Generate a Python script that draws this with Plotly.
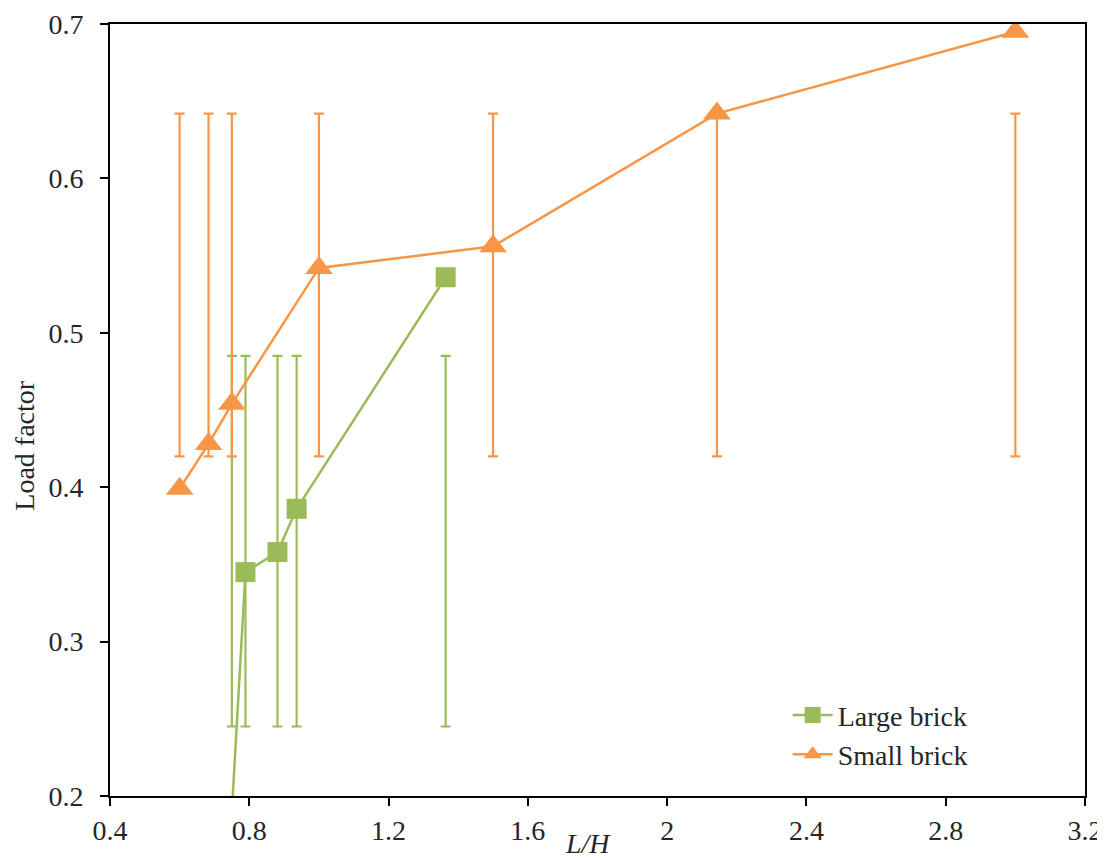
import plotly.graph_objects as go

# ---- data ----
large_x = [0.75, 0.789, 0.881, 0.936, 1.364]
large_y = [0.19, 0.345, 0.358, 0.386, 0.536]
large_err_low = [0.245, 0.245, 0.245, 0.245, 0.245]
large_err_high = [0.485, 0.485, 0.485, 0.485, 0.485]

small_x = [0.60, 0.683, 0.75, 1.0, 1.5, 2.143, 3.0]
small_y = [0.399, 0.428, 0.454, 0.542, 0.556, 0.642, 0.695]
small_err_low = [0.42, 0.42, 0.42, 0.42, 0.42, 0.42, 0.42]
small_err_high = [0.642, 0.642, 0.642, 0.642, 0.642, 0.642, 0.642]

x_ticks = [0.4, 0.8, 1.2, 1.6, 2.0, 2.4, 2.8, 3.2]
x_ticktext = ["0.4", "0.8", "1.2", "1.6", "2", "2.4", "2.8", "3.2"]
y_ticks = [0.2, 0.3, 0.4, 0.5, 0.6, 0.7]
y_ticktext = ["0.2", "0.3", "0.4", "0.5", "0.6", "0.7"]

GREEN = "#9BBB59"
ORANGE = "#F79646"
FONT = "Liberation Serif"
FS = 28
TXT = "#262626"


def err_trace(xs, lo, hi, color):
    mid = [(a + b) / 2 for a, b in zip(lo, hi)]
    half = [(b - a) / 2 for a, b in zip(lo, hi)]
    return go.Scatter(
        x=xs, y=mid, mode="markers",
        marker=dict(size=1, opacity=0, color=color),
        error_y=dict(type="data", array=half, symmetric=True,
                     color=color, thickness=2.2, width=5),
        showlegend=False, hoverinfo="skip",
    )


fig = go.Figure()
fig.add_trace(err_trace(large_x, large_err_low, large_err_high, GREEN))
fig.add_trace(go.Scatter(
    x=large_x, y=large_y, mode="lines+markers", name="Large brick",
    line=dict(color=GREEN, width=2.5),
    marker=dict(symbol="square", size=20, color=GREEN),
))
fig.add_trace(err_trace(small_x, small_err_low, small_err_high, ORANGE))
fig.add_trace(go.Scatter(
    x=small_x, y=small_y, mode="lines+markers", name="Small brick",
    line=dict(color=ORANGE, width=2.5),
    marker=dict(symbol="triangle-up", size=24, color=ORANGE),
))

axis_common = dict(
    showline=True, linecolor="black", linewidth=2, mirror=True,
    ticks="outside", ticklen=8, tickwidth=1.5, tickcolor="black",
    showgrid=False, zeroline=False, automargin=False,
    tickfont=dict(family=FONT, size=FS, color=TXT),
)

fig.update_xaxes(range=[0.4, 3.2], tickvals=x_ticks, ticktext=x_ticktext,
                 **axis_common)
fig.update_yaxes(range=[0.2, 0.7], tickvals=y_ticks, ticktext=y_ticktext,
                 ticklabelstandoff=11, **axis_common)

fig.add_annotation(text="<i>L/H</i>", xref="paper", yref="paper",
                   x=0.490, y=-0.061, xanchor="center", yanchor="middle",
                   showarrow=False, font=dict(family=FONT, size=FS, color=TXT))
fig.add_annotation(text="Load factor", xref="paper", yref="paper",
                   x=-0.088, y=0.454, xanchor="center", yanchor="middle",
                   textangle=-90, showarrow=False,
                   font=dict(family=FONT, size=FS, color=TXT))

# page body has an 8px margin, so the figure is sized to fit the window
fig.update_layout(
    width=1097, height=850,
    margin=dict(l=102, r=20, t=16, b=62),
    plot_bgcolor="white", paper_bgcolor="white",
    legend=dict(x=0.695, y=0.137, xanchor="left", yanchor="top",
                bgcolor="rgba(0,0,0,0)", font=dict(family=FONT, size=FS, color=TXT),
                itemwidth=40, tracegroupgap=0),
)

fig.write_html("out.html")
